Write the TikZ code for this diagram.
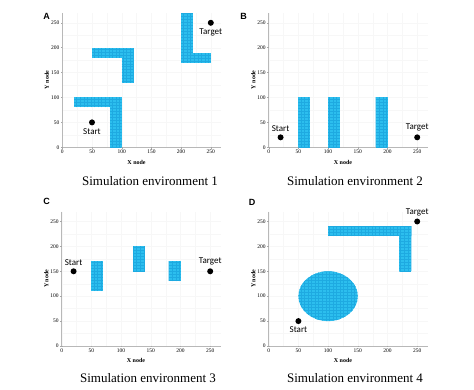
\documentclass[tikz,border=0pt]{standalone}
\usepackage{fontspec}
\setmainfont{Liberation Serif}
\newfontfamily\labelfont{Carlito}
\newfontfamily\panelfont{Liberation Sans}
\usepackage{tikz}
\usetikzlibrary{positioning}
\usepackage{xcolor}
\definecolor{obst}{RGB}{44,190,238}
\definecolor{obstline}{RGB}{30,170,225}
\newcommand{\envframe}{%
  \draw[black!3, line width=0.3pt] (0,0) grid[step=25] (268,270);
  \draw[black!28, line width=0.6pt] (0,270) -- (0,0) -- (268,0);
  \foreach \v in {0,50,...,250} {
    \draw[black!35, line width=0.4pt] (\v,0) -- (\v,-3);
    \node[tick, below] at (\v,-3) {\v};
    \draw[black!35, line width=0.4pt] (0,\v) -- (-3,\v);
    \node[tick, left] at (-3,\v) {\v};
  }
  \node[axlabel] at (125,-30) {X node};
  \node[axlabel, rotate=90] at (-26,135) {Y node};
}

\begin{document}
\begin{tikzpicture}[x=1pt, y=1pt, node distance=1.5pt,
  obstacle/.style={fill=obst, draw=none, path picture={\draw[obstline, line width=0.25pt] (path picture bounding box.south west) grid[step=6] (path picture bounding box.north east);}},
  goal/.style={circle, fill=black, inner sep=0pt, minimum size=6pt},
  goaltext/.style={font=\labelfont\fontsize{9}{9}\selectfont, inner sep=1pt},
  tick/.style={font=\fontsize{5.5}{5.5}\selectfont, inner sep=1pt},
  axlabel/.style={font=\bfseries\fontsize{6}{6}\selectfont, inner sep=0pt},
  panel/.style={font=\panelfont\bfseries\fontsize{9}{9}\selectfont, inner sep=0pt},
  caption/.style={font=\fontsize{13}{13}\selectfont, inner sep=0pt}]
\useasboundingbox (0,0) rectangle (474,390);

% environment 1
\begin{scope}[shift={(62.3,242.7)}, x=0.594pt, y=0.498pt]
  \envframe
  \fill[obstacle] (20,80) rectangle (100,100);
  \fill[obstacle] (80,0) rectangle (100,100);
  \fill[obstacle] (50,180) rectangle (120,200);
  \fill[obstacle] (100,130) rectangle (120,200);
  \fill[obstacle] (200,170) rectangle (220,270);
  \fill[obstacle] (200,170) rectangle (250,190);
  \node[goal] (start1) at (50,50) {};
  \node[goaltext, below=of start1] {Start};
  \node[goal] (target1) at (250,250) {};
  \node[goaltext, below=of target1] {Target};
\end{scope}

% environment 2
\begin{scope}[shift={(268.7,242.7)}, x=0.594pt, y=0.498pt]
  \envframe
  \foreach \bx in {50,100,180}
    \fill[obstacle] (\bx,0) rectangle (\bx+20,100);
  \node[goal] (start2) at (20,20) {};
  \node[goaltext, above=of start2] {Start};
  \node[goal] (target2) at (250,20) {};
  \node[goaltext, above=of target2] {Target};
\end{scope}

% environment 3
\begin{scope}[shift={(61.7,44)}, x=0.594pt, y=0.498pt]
  \envframe
  \fill[obstacle] (50,110) rectangle (70,170);
  \fill[obstacle] (120,150) rectangle (140,200);
  \fill[obstacle] (180,130) rectangle (200,170);
  \node[goal] (start3) at (20,150) {};
  \node[goaltext, above=of start3] {Start};
  \node[goal] (target3) at (250,150) {};
  \node[goaltext, above=of target3] {Target};
\end{scope}

% environment 4
\begin{scope}[shift={(268.7,44)}, x=0.594pt, y=0.498pt]
  \envframe
  \fill[obstacle] (100,100) ellipse [x radius=50, y radius=50];
  \fill[obstacle] (100,220) rectangle (240,240);
  \fill[obstacle] (220,150) rectangle (240,240);
  \node[goal] (start4) at (50,50) {};
  \node[goaltext, below=of start4] {Start};
  \node[goal] (target4) at (250,250) {};
  \node[goaltext, above=of target4] {Target};
\end{scope}

\node[panel] (labA) at (46.7,374) {A};
\node[panel] (labB) at (243.7,374) {B};
\node[panel] (labC) at (46.7,188.3) {C};
\node[panel] (labD) at (252,188) {D};
\node[caption] (cap1) at (150,209) {Simulation environment 1};
\node[caption] (cap2) at (355,209) {Simulation environment 2};
\node[caption] (cap3) at (148,12) {Simulation environment 3};
\node[caption] (cap4) at (355,12) {Simulation environment 4};
\end{tikzpicture}
\end{document}
